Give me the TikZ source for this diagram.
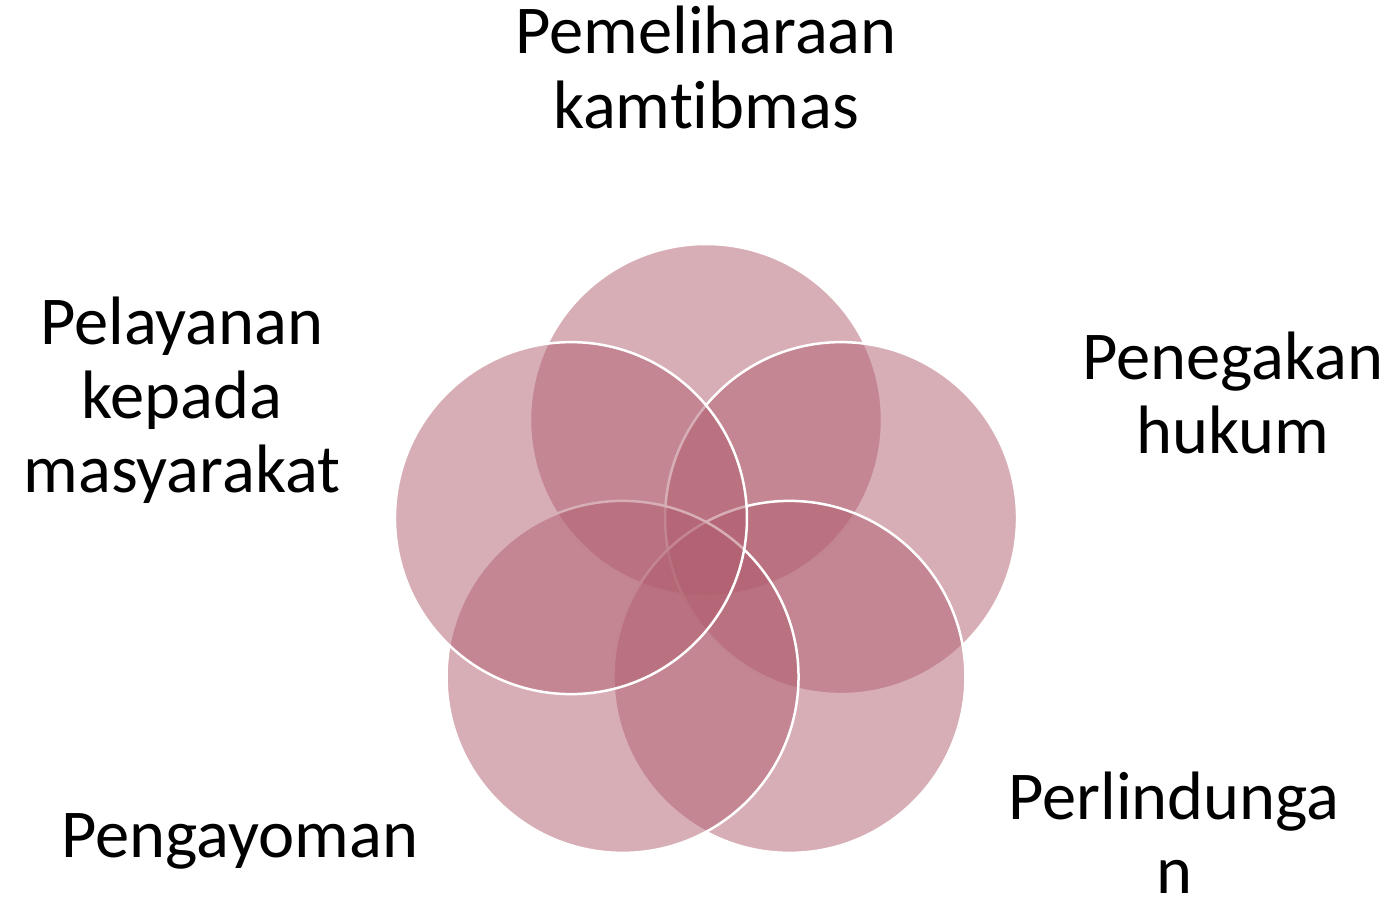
\documentclass[tikz,border=0pt]{standalone}
\usepackage{fontspec}
\setmainfont[Ligatures=NoCommon]{Carlito}
\usepackage{tikz}
\usetikzlibrary{calc}

\definecolor{vennrose}{RGB}{176,94,110}

\begin{document}
\begin{tikzpicture}[
    x=1pt, y=-1pt,
    petal/.style={circle, minimum size=352pt, inner sep=0pt, fill=vennrose, fill opacity=0.5, draw=white, line width=2.5pt},
    label/.style={font=\fontsize{68.5}{74}\selectfont, align=center, anchor=base, inner sep=0pt}
]
    \useasboundingbox (0,0) rectangle (1392,899);

    % Centre of the five circles
    \coordinate (mid) at (706,562);

    % Circles
    \node[petal] (pemeliharaan) at ($(mid)+(-90:142)$) {};
    \node[petal] (penegakan)    at ($(mid)+(-18:142)$) {};
    \node[petal] (perlindungan) at ($(mid)+(54:142)$) {};
    \node[petal] (pengayoman)   at ($(mid)+(126:142)$) {};
    \node[petal] (pelayanan)    at ($(mid)+(198:142)$) {};

    % Labels (anchored at the baseline of the last line)
    \node[label] (tpemeliharaan) at (706,128)  {Pemeliharaan\\kamtibmas};
    \node[label] (tpenegakan)    at (1233,453) {Penegakan\\hukum};
    \node[label] (tperlindungan) at (1174,893) {Perlindunga\\n};
    \node[label] (tpengayoman)   at (240,857)  {Pengayoman};
    \node[label] (tpelayanan)    at (182,492)  {Pelayanan\\kepada\\masyarakat};
\end{tikzpicture}
\end{document}
